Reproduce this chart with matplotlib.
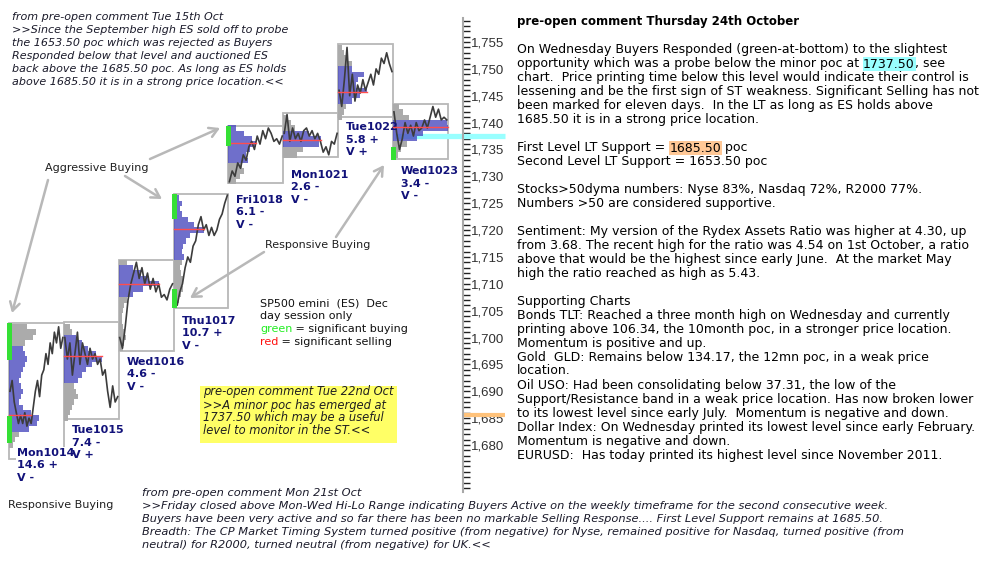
import numpy as np
import matplotlib.pyplot as plt
from matplotlib.patches import Rectangle
from matplotlib.ticker import MultipleLocator, FuncFormatter

plt.rcParams["font.family"] = ["DejaVu Sans"]

# ---- day session data (ES Dec, day session only) ----
days = ["Mon1014", "Tue1015", "Wed1016", "Thu1017",
        "Fri1018", "Mon1021", "Tue1022", "Wed1023"]
range_pct = ["14.6 +", "7.4 -", "4.6 -", "10.7 +", "6.1 -", "2.6 -", "5.8 +", "3.4 -"]
volume_sign = ["V -", "V +", "V -", "V -", "V -", "V -", "V +", "V -"]

day_high = [1702.7, 1702.9, 1714.4, 1726.7, 1739.4, 1741.8, 1754.6, 1743.5]
day_low = [1677.4, 1684.8, 1697.5, 1705.5, 1728.8, 1733.6, 1741.0, 1733.2]
poc = [1685.5, 1696.5, 1710.0, 1720.25, 1736.25, 1736.75, 1745.75, 1739.25]
va_low = [1683, 1692, 1708, 1715, 1733, 1736, 1744, 1737]
va_high = [1698, 1700, 1713, 1726, 1739, 1738, 1750, 1740]

# volume profile, one value per point starting at profile_start
profile_start = [1680, 1685, 1698, 1706, 1729, 1734, 1741, 1734]
profiles = [
    [4, 6, 10, 20, 28, 30, 22, 14, 10, 12, 14, 12, 10, 12, 14, 16, 18, 16, 14, 16, 24, 27, 18],
    [4, 6, 8, 10, 14, 12, 10, 14, 18, 22, 28, 38, 32, 24, 18, 12, 8, 6],
    [4, 5, 7, 6, 4, 3, 3, 4, 5, 8, 14, 24, 40, 30, 22, 14, 8],
    [3, 5, 7, 9, 8, 9, 7, 6, 8, 10, 8, 9, 12, 16, 30, 20, 14, 8, 6, 8, 5],
    [8, 12, 16, 14, 20, 18, 22, 28, 24, 16, 8],
    [14, 20, 36, 38, 26, 12, 8, 5],
    [4, 6, 8, 14, 22, 29, 18, 20, 26, 14, 14, 10, 6, 4],
    [5, 8, 14, 24, 30, 55, 54, 16, 10, 6],
]

# price path through each session
traces = [
    [1690, 1692, 1688, 1686, 1684, 1685.5, 1684, 1686, 1683.5, 1685, 1684, 1687, 1690,
     1692, 1689, 1693, 1694, 1697, 1695, 1699, 1697, 1701, 1699, 1702, 1698, 1700],
    [1700, 1696, 1699, 1693, 1697, 1701, 1695, 1699, 1697, 1695, 1698, 1696, 1697,
     1695, 1696, 1693, 1694, 1690, 1687, 1691, 1688, 1689],
    [1700, 1698, 1702, 1707, 1710, 1712, 1714, 1711, 1713, 1710, 1712, 1709, 1711,
     1708.5, 1710, 1707.5, 1708, 1707, 1709, 1710],
    [1707, 1706, 1708.5, 1710, 1713, 1715, 1714, 1717, 1718, 1721, 1722.5, 1720, 1721,
     1719, 1720.5, 1719, 1720, 1722, 1723, 1725, 1726.5],
    [1729, 1731, 1730, 1732.5, 1731.5, 1734, 1733, 1735.5, 1736.5, 1735, 1737.5, 1736,
     1738.5, 1737, 1739, 1738, 1736.5, 1737, 1736, 1737.5],
    [1738, 1741.5, 1736.5, 1739, 1737, 1738, 1736.5, 1738.5, 1739, 1737.5, 1738.5, 1737,
     1738, 1736.5, 1734.5, 1735.5, 1734, 1736.5, 1736, 1738],
    [1746, 1743, 1748, 1754, 1745, 1749, 1744, 1747, 1745.5, 1748, 1746, 1747.5, 1749,
     1747, 1750, 1749, 1752, 1751, 1753, 1751, 1749.5],
    [1742, 1738, 1735, 1737, 1740, 1738, 1739.5, 1737.5, 1740, 1738.5, 1739, 1740.5,
     1739, 1741, 1743, 1741, 1742.5, 1740.5, 1741, 1740.5],
]

# significant buying marks: (day index, low, high)
green_marks = [(0, 1695.8, 1702.7), (0, 1680.4, 1685.4), (3, 1722.0, 1726.7),
               (3, 1705.5, 1709.0), (4, 1735.6, 1739.4), (7, 1733.0, 1735.5)]

minor_poc = 1737.5
lt_support = 1685.5

# ---- layout ----
first_left = 9
day_step = 54.85
label_dy = [-11, 6, 6, 8, 12, 13, 5, 7]   # px below the box for the day label

fig = plt.figure(figsize=(9.99, 5.77), dpi=100)
ax = fig.add_axes([0, 1 - 492 / 577, 463 / 999, 474 / 577], zorder=2)
ov = fig.add_axes([0, 0, 1, 1], zorder=3)
ov.set_xlim(0, 999)
ov.set_ylim(577, 0)
ov.axis("off")
ov.patch.set_visible(False)

ax.set_xlim(0, 463)
ax.set_ylim(1671.25, 1759.47)
ax.set_xticks([])
for s in ["left", "top", "bottom"]:
    ax.spines[s].set_visible(False)
ax.spines["right"].set_color("#a8a8a8")
ax.spines["right"].set_linewidth(1.5)
ax.yaxis.tick_right()
ax.yaxis.set_major_locator(MultipleLocator(5))
ax.yaxis.set_minor_locator(MultipleLocator(1))
ax.yaxis.set_major_formatter(
    FuncFormatter(lambda v, _: f"{v:,.0f}" if v >= 1680 else ""))
ax.tick_params(axis="y", which="both", direction="out", length=5, width=1,
               color="#202020", labelsize=9.5, pad=1, labelcolor="#303030",
               labelfontfamily="Liberation Sans")

# key levels
ax.plot([395, 505], [minor_poc, minor_poc], color="#99ffff", lw=3.8,
        solid_capstyle="butt", clip_on=False, zorder=2)
ax.plot([463, 505], [lt_support, lt_support], color="#ffc27a", lw=3,
        solid_capstyle="butt", clip_on=False, zorder=2)

for i, name in enumerate(days):
    left = first_left + i * day_step
    ax.add_patch(Rectangle((left, day_low[i]), day_step, day_high[i] - day_low[i],
                           fill=False, ec="#b8b8b8", lw=1.3, zorder=1))
    levels = [profile_start[i] + k for k in range(len(profiles[i]))]
    in_va = [va_low[i] <= p <= va_high[i] for p in levels]
    gl = [p for p, v in zip(levels, in_va) if not v]
    gw = [w for w, v in zip(profiles[i], in_va) if not v]
    bl = [p for p, v in zip(levels, in_va) if v]
    bw = [w for w, v in zip(profiles[i], in_va) if v]
    ax.barh(gl, gw, height=1, left=left, color="#ababab", zorder=3)
    ax.barh(bl, bw, height=1, left=left, color="#4b4bbf", alpha=0.8, zorder=4)
    pw = profiles[i][int(round(poc[i])) - profile_start[i]]
    ax.plot([left, left + pw], [poc[i], poc[i]], color="#ff4d4d", lw=1, zorder=6)
    xs = np.linspace(left + 1, left + day_step - 1, len(traces[i]))
    ax.plot(xs, traces[i], color="#3c3c3c", lw=1.2, zorder=5)
    bbox = dict(boxstyle="square,pad=0.1", fc="white", ec="none") if i == 0 else None
    ax.annotate(f"{name}\n{range_pct[i]}\n{volume_sign[i]}", xy=(left + 8, day_low[i]),
                xytext=(0, -label_dy[i]), textcoords="offset pixels", ha="left",
                va="top", fontsize=8, fontweight="bold", color="#12127a",
                linespacing=1.3, zorder=5.5, bbox=bbox)

for d, lo, hi in green_marks:
    left = first_left + d * day_step
    ax.add_patch(Rectangle((left - 2, lo), 5, hi - lo, color="#35e035", lw=0, zorder=6))

# ---- annotations ----
arrow = dict(arrowstyle="->,head_length=0.6,head_width=0.35", color="#b8b8b8",
             lw=1.8, shrinkA=0, shrinkB=0)
ov.text(45, 168, "Aggressive Buying", fontsize=8, va="center", color="#202020")
ov.annotate("", xy=(12, 313), xytext=(48, 180), arrowprops=arrow)
ov.annotate("", xy=(162, 199), xytext=(125, 176), arrowprops=arrow)
ov.annotate("", xy=(220, 128), xytext=(150, 159), arrowprops=arrow)
ov.text(265, 245, "Responsive Buying", fontsize=8, va="center", color="#202020")
ov.annotate("", xy=(190, 298), xytext=(264, 252), arrowprops=arrow)
ov.annotate("", xy=(384, 165), xytext=(336, 237), arrowprops=arrow)
ov.text(8, 505, "Responsive Buying", fontsize=8, va="center", color="#202020")

legend_y = 303
ov.text(260, legend_y, "SP500 emini  (ES)  Dec", fontsize=8, va="center", color="#101010")
ov.text(260, legend_y + 13, "day session only", fontsize=8, va="center", color="#101010")
t = ov.text(260, legend_y + 26, "green", fontsize=8, va="center", color="#22ee22")
ov.annotate(" = significant buying", xy=(1, 0.5), xycoords=t, va="center",
            fontsize=8, color="#101010")
t = ov.text(260, legend_y + 39, "red", fontsize=8, va="center", color="#ff1010")
ov.annotate(" = significant selling", xy=(1, 0.5), xycoords=t, va="center",
            fontsize=8, color="#101010")

ov.add_patch(Rectangle((200, 386), 197, 57, color="#ffff66", lw=0))
yellow_lines = ["pre-open comment Tue 22nd Oct", ">>A minor poc has emerged at",
                "1737.50 which may be a useful", "level to monitor in the ST.<<"]
for k, line in enumerate(yellow_lines):
    ov.text(203, 392 + 13 * k, line, fontsize=8.3, style="italic", va="center",
            color="#202020")

top_left = ["from pre-open comment Tue 15th Oct",
            ">>Since the September high ES sold off to probe",
            "the 1653.50 poc which was rejected as Buyers",
            "Responded below that level and auctioned ES",
            "back above the 1685.50 poc. As long as ES holds",
            "above 1685.50 it is in a strong price location.<<"]
for k, line in enumerate(top_left):
    ov.text(12, 17 + 13 * k, line, fontsize=8, style="italic", va="center",
            color="#1a1a2a")

bottom = ["from pre-open comment Mon 21st Oct",
          ">>Friday closed above Mon-Wed Hi-Lo Range indicating Buyers Active on the weekly timeframe for the second consecutive week.",
          "Buyers have been very active and so far there has been no markable Selling Response.... First Level Support remains at 1685.50.",
          "Breadth: The CP Market Timing System turned positive (from negative) for Nyse, remained positive for Nasdaq, turned positive (from",
          "neutral) for R2000, turned neutral (from negative) for UK.<<"]
for k, line in enumerate(bottom):
    ov.text(142, 493 + 13 * k, line, fontsize=8.22, style="italic", va="center",
            color="#1a1a2a")

ov.text(517, 22, "pre-open comment Thursday 24th October", fontsize=8.5,
        fontweight="bold", va="center", color="#000000")

right_lines = [
    "On Wednesday Buyers Responded (green-at-bottom) to the slightest",
    ("opportunity which was a probe below the minor poc at ", "1737.50", ", see", "#99ffff"),
    "chart.  Price printing time below this level would indicate their control is",
    "lessening and be the first sign of ST weakness. Significant Selling has not",
    "been marked for eleven days.  In the LT as long as ES holds above",
    "1685.50 it is in a strong price location.",
    "",
    ("First Level LT Support = ", "1685.50", " poc", "#ffc896"),
    "Second Level LT Support = 1653.50 poc",
    "",
    "Stocks>50dyma numbers: Nyse 83%, Nasdaq 72%, R2000 77%.",
    "Numbers >50 are considered supportive.",
    "",
    "Sentiment: My version of the Rydex Assets Ratio was higher at 4.30, up",
    "from 3.68. The recent high for the ratio was 4.54 on 1st October, a ratio",
    "above that would be the highest since early June.  At the market May",
    "high the ratio reached as high as 5.43.",
    "",
    "Supporting Charts",
    "Bonds TLT: Reached a three month high on Wednesday and currently",
    "printing above 106.34, the 10month poc, in a stronger price location.",
    "Momentum is positive and up.",
    "Gold  GLD: Remains below 134.17, the 12mn poc, in a weak price",
    "location.",
    "Oil USO: Had been consolidating below 37.31, the low of the",
    "Support/Resistance band in a weak price location. Has now broken lower",
    "to its lowest level since early July.  Momentum is negative and down.",
    "Dollar Index: On Wednesday printed its lowest level since early February.",
    "Momentum is negative and down.",
    "EURUSD:  Has today printed its highest level since November 2011.",
]
for k, line in enumerate(right_lines):
    y = 50 + 14 * k - (1 if k > 12 else 0)
    if isinstance(line, tuple):
        pre, mark, post, hl = line
        t = ov.text(517, y, pre, fontsize=9, va="center", color="#000000")
        t = ov.annotate(mark, xy=(1, 0.5), xycoords=t, va="center", fontsize=9,
                        color="#000000",
                        bbox=dict(boxstyle="square,pad=0.05", fc=hl, ec="none"))
        ov.annotate(post, xy=(1, 0.5), xycoords=t, va="center", fontsize=9,
                    color="#000000")
    elif line:
        ov.text(517, y, line, fontsize=9, va="center", color="#000000")

fig.savefig("out.png", dpi=100, facecolor="white")
